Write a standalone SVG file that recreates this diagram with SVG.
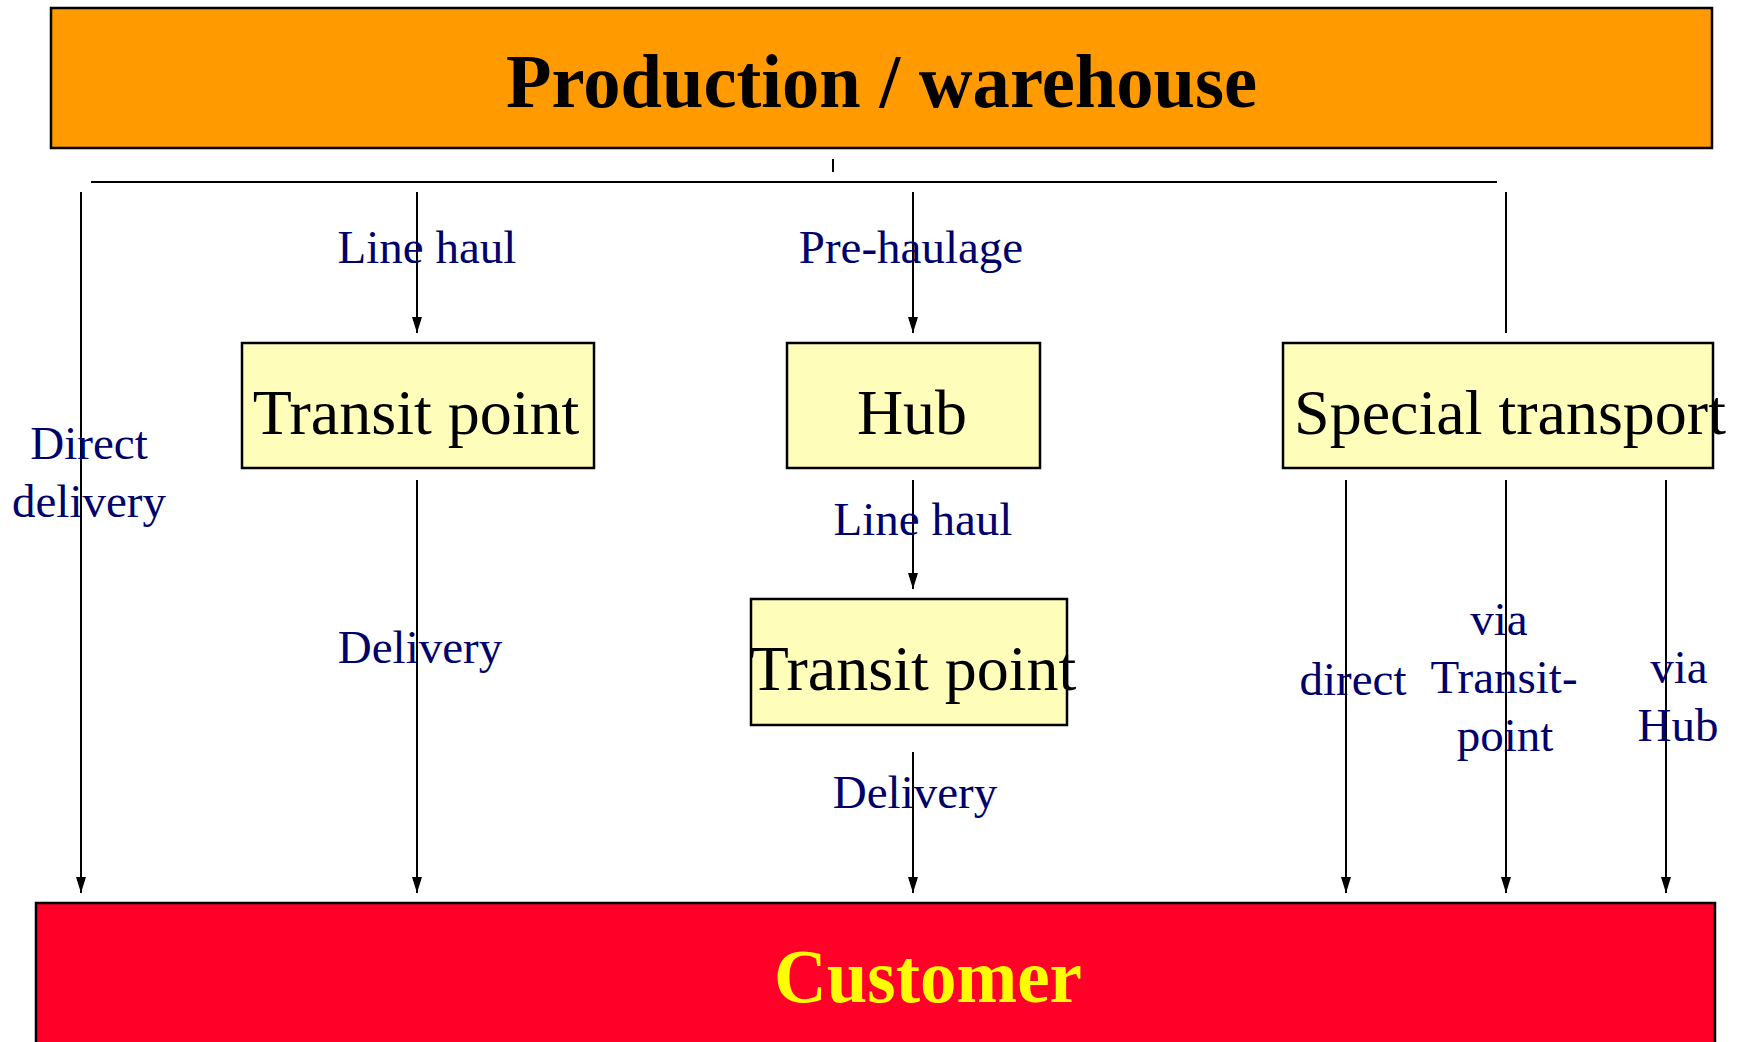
<svg xmlns="http://www.w3.org/2000/svg" width="1740" height="1042" viewBox="0 0 1740 1042">
<style>
.box{fill:#FFFDBA;stroke:#000;stroke-width:2.5}
.node{font-family:"Liberation Serif","Times New Roman",serif;font-size:64px;fill:#000;text-anchor:middle}
.lbl{font-family:"Liberation Serif","Times New Roman",serif;font-size:47px;fill:#00006B;text-anchor:middle}
.ln{stroke:#000;stroke-width:2;fill:none}
</style>
<defs>
<marker id="arr" viewBox="0 0 16 10" refX="16" refY="5" markerWidth="16" markerHeight="10" markerUnits="userSpaceOnUse" orient="auto">
<path d="M0,0 L16,5 L0,10 Z" fill="#000"/>
</marker>
</defs>
<rect width="1740" height="1042" fill="#fff"/>

<g id="production">
<rect x="51" y="8" width="1661" height="140" fill="#FF9B00" stroke="#000" stroke-width="2.5"/>
<text x="881.5" y="107" font-family="'Liberation Serif','Times New Roman',serif" font-size="76" font-weight="bold" text-anchor="middle" textLength="751" lengthAdjust="spacingAndGlyphs">Production / warehouse</text>
</g>

<g id="customer">
<rect x="36" y="903" width="1679" height="150" fill="#FF0029" stroke="#000" stroke-width="2.5"/>
<text x="928" y="1002" font-family="'Liberation Serif','Times New Roman',serif" font-size="77" font-weight="bold" fill="#FFFF00" text-anchor="middle" textLength="308" lengthAdjust="spacingAndGlyphs">Customer</text>
</g>

<g id="transit1">
<rect class="box" x="242" y="343" width="352" height="125"/>
<text class="node" x="416" y="434">Transit point</text>
</g>

<g id="hub">
<rect class="box" x="787" y="343" width="253" height="125"/>
<text class="node" x="912" y="434">Hub</text>
</g>

<g id="special">
<rect class="box" x="1283" y="343" width="430" height="125"/>
<text class="node" x="1510" y="434">Special transport</text>
</g>

<g id="transit2">
<rect class="box" x="751" y="599" width="316" height="126"/>
<text class="node" x="913" y="690">Transit point</text>
</g>

<g id="connectors">
<line class="ln" x1="91" y1="182" x2="1497" y2="182" stroke-width="3"/>
<line class="ln" x1="833" y1="159" x2="833" y2="172"/>
<line class="ln" x1="81" y1="192" x2="81" y2="893" marker-end="url(#arr)"/>
<line class="ln" x1="417" y1="192" x2="417" y2="333" marker-end="url(#arr)"/>
<line class="ln" x1="913" y1="192" x2="913" y2="333" marker-end="url(#arr)"/>
<line class="ln" x1="1506" y1="192" x2="1506" y2="333"/>
<line class="ln" x1="417" y1="480" x2="417" y2="893" marker-end="url(#arr)"/>
<line class="ln" x1="913" y1="480" x2="913" y2="589" marker-end="url(#arr)"/>
<line class="ln" x1="913" y1="752" x2="913" y2="893" marker-end="url(#arr)"/>
<line class="ln" x1="1346" y1="480" x2="1346" y2="893" marker-end="url(#arr)"/>
<line class="ln" x1="1506" y1="480" x2="1506" y2="893" marker-end="url(#arr)"/>
<line class="ln" x1="1666" y1="480" x2="1666" y2="893" marker-end="url(#arr)"/>
</g>

<g id="labels">
<text class="lbl" x="427" y="263">Line haul</text>
<text class="lbl" x="911" y="263">Pre-haulage</text>
<text class="lbl" x="89" y="459">Direct</text>
<text class="lbl" x="89" y="517">delivery</text>
<text class="lbl" x="923" y="535">Line haul</text>
<text class="lbl" x="420" y="663">Delivery</text>
<text class="lbl" x="915" y="808">Delivery</text>
<text class="lbl" x="1353" y="695">direct</text>
<text class="lbl" x="1499" y="635">via</text>
<text class="lbl" x="1504" y="693">Transit-</text>
<text class="lbl" x="1505" y="751">point</text>
<text class="lbl" x="1679" y="683">via</text>
<text class="lbl" x="1678" y="741">Hub</text>
</g>
</svg>
